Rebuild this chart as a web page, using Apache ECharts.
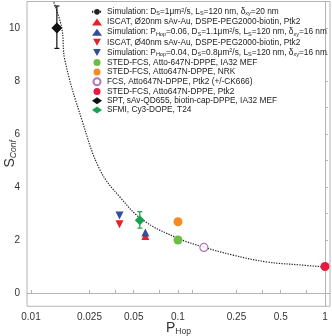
<!DOCTYPE html>
<html>
<head>
<meta charset="utf-8">
<script src="https://cdn.jsdelivr.net/npm/echarts@6/dist/echarts.min.js"></script>
<style>
  html, body { margin: 0; padding: 0; background: #fff; }
  #chart { width: 332px; height: 336px; }
</style>
</head>
<body>
<div id="chart"></div>
<script>
// simulation curve (P_Hop, S_Conf)
const simP = [0.0141, 0.0162, 0.0170, 0.0222, 0.0295, 0.0403, 0.0578, 0.0984, 0.148, 0.237, 0.403, 0.676, 1.0];
const simS = [11.06, 10.0, 8.79, 6.53, 4.64, 3.62, 2.75, 2.08, 1.74, 1.43, 1.17, 1.06, 0.98];

// measured / simulated points: [P_Hop, S_Conf]
const iscat20 = [[0.06, 2.15]];
const simP06 = [[0.06, 2.28]];
const iscat40 = [[0.04, 2.59]];
const simP04 = [[0.04, 2.92]];
const stedMef = [[0.1, 2.0]];
const stedNrk = [[0.1, 2.69]];
const fcsPtk2 = [[0.15, 1.72]];
const stedPtk2 = [[1.0, 1.0]];
const sptMef = [[0.015, 10.0]];
const sfmiT24 = [[0.055, 2.75]];

// error bars: [P_Hop, low, high]
const sptErr = [[0.015, 9.23, 10.83]];
const sfmiErr = [[0.055, 2.45, 3.07]];

const xTicks = [0.01, 0.025, 0.05, 0.1, 0.25, 0.5, 1];
const xTickLabels = ['0.01', '0.025', '0.05', '0.1', '0.25', '0.5', '1'];
const xMinorTicks = [0.0375, 0.075, 0.125, 0.375, 0.75];
const yTicks = [0, 2, 4, 6, 8, 10];
const yAllTicks = [0, 1, 2, 3, 4, 5, 6, 7, 8, 9, 10];

const names = [
  'Simulation: Ds=1um2/s, Ls=120 nm, dxy=20 nm',
  'ISCAT, Ø20nm sAv-Au, DSPE-PEG2000-biotin, Ptk2',
  'Simulation: PHop=0.06, Ds=1.1um2/s, Ls=120 nm, dxy=16 nm',
  'ISCAT, Ø40nm sAv-Au, DSPE-PEG2000-biotin, Ptk2',
  'Simulation: PHop=0.04, Ds=0.8um2/s, Ls=120 nm, dxy=16 nm',
  'STED-FCS, Atto-647N-DPPE, IA32 MEF',
  'STED-FCS, Atto647N-DPPE, NRK',
  'FCS, Atto647N-DPPE, Ptk2 (+/-CK666)',
  'STED-FCS, Atto647N-DPPE, Ptk2',
  'SPT, sAv-QD655, biotin-cap-DPPE, IA32 MEF',
  'SFMI, Cy3-DOPE, T24'
];
// legend text with sub/superscripts
const richNames = [
  '{n|Simulation: D}{s|S}{n|=1μm}{p|2}{n|/s, L}{s|S}{n|=120 nm, δ}{s|xy}{n|=20 nm}',
  '{n|ISCAT, Ø20nm sAv-Au, DSPE-PEG2000-biotin, Ptk2}',
  '{n|Simulation: P}{s|Hop}{n|=0.06, D}{s|S}{n|=1.1μm}{p|2}{n|/s, L}{s|S}{n|=120 nm, δ}{s|xy}{n|=16 nm}',
  '{n|ISCAT, Ø40nm sAv-Au, DSPE-PEG2000-biotin, Ptk2}',
  '{n|Simulation: P}{s|Hop}{n|=0.04, D}{s|S}{n|=0.8μm}{p|2}{n|/s, L}{s|S}{n|=120 nm, δ}{s|xy}{n|=16 nm}',
  '{n|STED-FCS, Atto-647N-DPPE, IA32 MEF}',
  '{n|STED-FCS, Atto647N-DPPE, NRK}',
  '{n|FCS, Atto647N-DPPE, Ptk2 (+/-CK666)}',
  '{n|STED-FCS, Atto647N-DPPE, Ptk2}',
  '{n|SPT, sAv-QD655, biotin-cap-DPPE, IA32 MEF}',
  '{n|SFMI, Cy3-DOPE, T24}'
];
const downTri = 'path://M0,0 L10,0 L5,9 Z';

const lg = Math.log10;
const toLog = arr => arr.map(d => [lg(d[0]), d[1]]);
const font = 'Liberation Sans, Arial, sans-serif';
const frame = '#b4b4b4';

function scatter(name, data, symbol, size, color, extra) {
  return Object.assign({
    name: name,
    type: 'scatter',
    data: toLog(data),
    symbol: symbol,
    symbolSize: size,
    itemStyle: { color: color, opacity: 1 },
    z: 5
  }, extra || {});
}

function errBars(data, color) {
  return {
    type: 'custom',
    data: data.map(d => [lg(d[0]), d[1], d[2]]),
    z: 3,
    renderItem: function (params, api) {
      const lo = api.coord([api.value(0), api.value(1)]);
      const hi = api.coord([api.value(0), api.value(2)]);
      const w = 2.5;
      const st = { stroke: color, lineWidth: 1.2 };
      return {
        type: 'group',
        children: [
          { type: 'line', shape: { x1: lo[0], y1: lo[1], x2: hi[0], y2: hi[1] }, style: st },
          { type: 'line', shape: { x1: lo[0] - w, y1: lo[1], x2: lo[0] + w, y2: lo[1] }, style: st },
          { type: 'line', shape: { x1: hi[0] - w, y1: hi[1], x2: hi[0] + w, y2: hi[1] }, style: st }
        ]
      };
    }
  };
}

const chart = echarts.init(document.getElementById('chart'));
chart.setOption({
  animation: false,
  textStyle: { fontFamily: font },
  grid: {
    left: 27, right: 2, top: 1.5, bottom: 29.75,
    containLabel: false,
    outerBoundsMode: 'none',
    show: true, borderColor: frame, borderWidth: 1
  },
  legend: {
    data: names.map((n, i) => (i === 3 || i === 4) ? { name: n, icon: downTri } : n),
    left: 91,
    top: 7,
    orient: 'vertical',
    itemWidth: 10,
    itemHeight: 7,
    itemGap: 1.3,
    padding: 0,
    formatter: function (name) { return richNames[names.indexOf(name)]; },
    textStyle: {
      color: '#222',
      fontFamily: font,
      rich: {
        n: { fontSize: 8.3, lineHeight: 9.7, fontFamily: font, color: '#222' },
        s: { fontSize: 5.5, lineHeight: 6, verticalAlign: 'bottom', fontFamily: font, color: '#222' },
        p: { fontSize: 5.5, lineHeight: 6, verticalAlign: 'top', fontFamily: font, color: '#222' }
      }
    }
  },
  xAxis: {
    type: 'value',
    min: -2.027,
    max: 0.034,
    splitLine: { show: false },
    axisLine: { lineStyle: { color: frame } },
    axisTick: {
      inside: true, length: 3, lineStyle: { color: frame },
      customValues: xTicks.concat(xMinorTicks).map(lg)
    },
    axisLabel: {
      fontSize: 10, color: '#333', margin: 6, fontFamily: font,
      customValues: xTicks.map(lg),
      formatter: function (v) {
        let best = 0;
        xTicks.forEach((t, i) => { if (Math.abs(lg(t) - v) < Math.abs(lg(xTicks[best]) - v)) best = i; });
        return xTickLabels[best];
      }
    },
    name: '{a|P}{b|Hop}',
    nameLocation: 'middle',
    nameGap: 14,
    nameMoveOverlap: false,
    nameTextStyle: {
      rich: {
        a: { fontSize: 14, color: '#333', fontFamily: font, lineHeight: 16 },
        b: { fontSize: 8.5, color: '#333', fontFamily: font, verticalAlign: 'bottom', lineHeight: 8 }
      }
    }
  },
  yAxis: {
    type: 'value',
    min: -0.5,
    max: 11,
    splitLine: { show: false },
    axisLine: { lineStyle: { color: frame } },
    axisTick: {
      inside: true, length: 3, lineStyle: { color: frame },
      customValues: yAllTicks
    },
    axisLabel: {
      fontSize: 10, color: '#333', margin: 7, fontFamily: font,
      customValues: yTicks
    },
    name: '{a|S}{b|Conf}',
    nameLocation: 'middle',
    nameRotate: 90,
    nameGap: 9,
    nameMoveOverlap: false,
    nameTextStyle: {
      rich: {
        a: { fontSize: 14, color: '#333', fontFamily: font, lineHeight: 16 },
        b: { fontSize: 8.5, color: '#333', fontFamily: font, fontStyle: 'italic', verticalAlign: 'bottom', lineHeight: 8 }
      }
    }
  },
  series: [
    {
      name: names[0],
      type: 'line',
      data: simP.map((p, i) => [lg(p), simS[i]]),
      smooth: 0.4,
      showSymbol: false,
      symbol: 'none',
      clip: true,
      lineStyle: { color: '#222', width: 1.2, type: [1.3, 1.3] },
      itemStyle: { color: '#222' },
      z: 2
    },
    scatter(names[1], iscat20, 'triangle', 8, '#e8202a'),
    scatter(names[2], simP06, 'triangle', 8, '#2f4e9e'),
    scatter(names[3], iscat40, 'triangle', 8, '#e8202a', { symbolRotate: 180 }),
    scatter(names[4], simP04, 'triangle', 8, '#2f4e9e', { symbolRotate: 180 }),
    scatter(names[5], stedMef, 'circle', 9, '#6cbd45'),
    scatter(names[6], stedNrk, 'circle', 9, '#f68b25'),
    scatter(names[7], fcsPtk2, 'circle', 8, '#fff', { itemStyle: { color: '#fff', borderColor: '#a052a6', borderWidth: 1.2 } }),
    scatter(names[8], stedPtk2, 'circle', 9, '#e8193e'),
    scatter(names[9], sptMef, 'diamond', 11, '#111'),
    scatter(names[10], sfmiT24, 'diamond', 10, '#1aa14b'),
    errBars(sptErr, '#111'),
    errBars(sfmiErr, '#1aa14b')
  ]
});
</script>
</body>
</html>
